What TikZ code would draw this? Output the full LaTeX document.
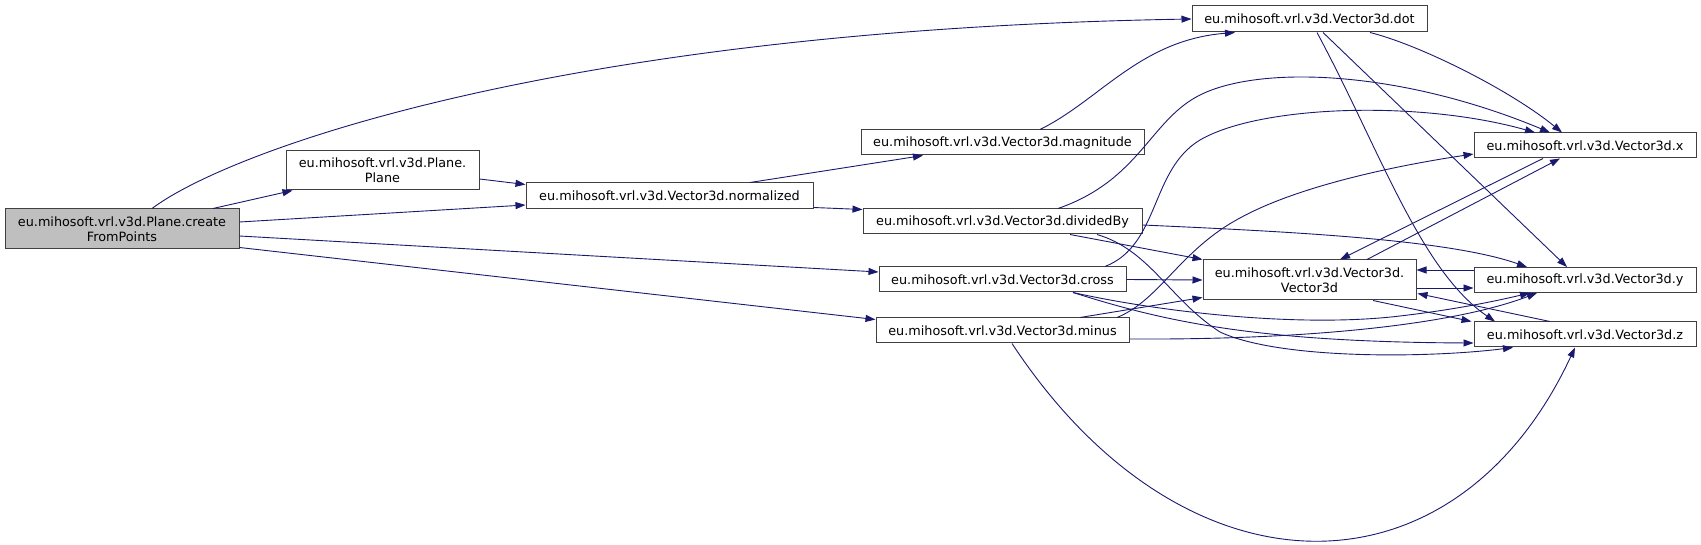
\documentclass[tikz,border=0pt]{standalone}
\usepackage{fontspec}
\setmainfont{DejaVu Sans}
\usetikzlibrary{arrows.meta, calc}
\definecolor{edgeblue}{RGB}{25,25,112}
\definecolor{boxgrey}{RGB}{191,191,191}
\tikzset{
  fnbox/.style={draw=black!75, line width=1pt, fill=white, inner sep=0pt,
    align=center, font=\fontsize{12.8}{15.4}\selectfont},
  hilite/.style={fnbox, fill=boxgrey},
  call/.style={draw=edgeblue, line width=0.9pt,
    -{Triangle[length=10pt, width=7pt]}}
}

\begin{document}
\begin{tikzpicture}[x=1pt, y=-1pt]
  \useasboundingbox (0,0) rectangle (1701,545);

  % ── Functions ────────────────────────────────────────────────────
  \node[hilite, minimum width=234, minimum height=40] (cfp) at (122,229)
    {eu.mihosoft.vrl.v3d.Plane.create\\FromPoints};
  \node[fnbox, minimum width=193, minimum height=39] (plane) at (382.5,170.5)
    {eu.mihosoft.vrl.v3d.Plane.\\Plane};
  \node[fnbox, minimum width=287, minimum height=26] (norm) at (669.5,196)
    {eu.mihosoft.vrl.v3d.Vector3d.normalized};
  \node[fnbox, minimum width=235, minimum height=26] (dot) at (1309.5,19)
    {eu.mihosoft.vrl.v3d.Vector3d.dot};
  \node[fnbox, minimum width=213, minimum height=40] (ctor) at (1309.5,280)
    {eu.mihosoft.vrl.v3d.Vector3d.\\Vector3d};

  \foreach \n/\lbl/\w/\yy in {mag/magnitude/283/142.5, divby/dividedBy/279/221.5,
                             cross/cross/247/279.5, minus/minus/253/330.5}
    { \node[fnbox, minimum width=\w, minimum height=25] (\n) at (1002.5,\yy)
        {eu.mihosoft.vrl.v3d.Vector3d.\lbl}; }

  \foreach \n/\lbl/\yy in {vx/x/145.5, vy/y/280, vz/z/334.5}
    { \node[fnbox, minimum width=222, minimum height=25] (\n) at (1585,\yy)
        {eu.mihosoft.vrl.v3d.Vector3d.\lbl}; }

  % ── Calls from createFromPoints ──────────────────────────────────
  \draw[call] ($(cfp.north)+(30,0)$) .. controls (230,150) and (560,30) .. (dot.west);
  \draw[call] ($(cfp.north)+(91,0)$) -- ($(plane.south west)+(7,0)$);
  \draw[call] ($(cfp.east)+(0,-7)$) -- ($(norm.west)+(0,9)$);
  \draw[call] ($(cfp.east)+(0,7)$) -- ($(cross.west)+(0,-7.5)$);
  \draw[call] ($(cfp.south east)+(0,-2)$) -- ($(minus.north west)+(0,2)$);

  % ── Plane, normalized, magnitude ─────────────────────────────────
  \draw[call] ($(plane.east)+(0,8.5)$) -- ($(norm.north west)+(0,2)$);
  \draw[call] ($(norm.north)+(80.5,0)$) -- ($(mag.south)+(-79.5,0)$);
  \draw[call] ($(norm.south east)+(0,-2)$) -- ($(divby.north west)+(0,1)$);
  \draw[call] ($(mag.north)+(37.5,0)$) .. controls (1100,100) and (1140,40)
    .. ($(dot.south)+(-74.5,0)$);

  % ── dot ──────────────────────────────────────────────────────────
  \draw[call] ($(dot.south)+(60.5,0)$) .. controls (1420,45) and (1510,90)
    .. ($(vx.north)+(-23,0)$);
  \draw[call] ($(dot.south)+(13.5,0)$) -- ($(vy.north)+(-18,0)$);
  \draw[call] ($(dot.south)+(7.5,0)$) .. controls (1380,150) and (1420,270)
    .. ($(vz.north)+(-90,0)$);

  % ── dividedBy ────────────────────────────────────────────────────
  \draw[call] ($(divby.north)+(55.5,0)$) .. controls (1140,180) and (1150,120) .. (1200,95)
    .. controls (1260,65) and (1400,70) .. ($(vx.north)+(-35,0)$);
  \draw[call] ($(divby.east)+(0,3.5)$) .. controls (1300,232) and (1450,240)
    .. ($(vy.north)+(-58,0)$);
  \draw[call] ($(divby.south)+(67.5,0)$) -- (ctor.north west);
  \draw[call] ($(divby.south)+(94.5,0)$) .. controls (1150,250) and (1170,300) .. (1220,332)
    .. controls (1280,360) and (1430,358) .. ($(vz.south)+(-72,0)$);

  % ── cross ────────────────────────────────────────────────────────
  \draw[call] ($(cross.north)+(102.5,0)$) .. controls (1160,245) and (1150,170) .. (1200,140)
    .. controls (1260,105) and (1420,100) .. ($(vx.north)+(-50,0)$);
  \draw[call] (cross.east) -- (ctor.west);
  \draw[call] ($(cross.south)+(70.5,0)$) .. controls (1160,312) and (1300,328) .. (1400,316)
    .. controls (1460,309) and (1500,300) .. ($(vy.south)+(-55,0)$);
  \draw[call] ($(cross.south)+(70.5,0)$) .. controls (1160,320) and (1250,342)
    .. ($(vz.west)+(0,8.5)$);

  % ── minus ────────────────────────────────────────────────────────
  \draw[call] ($(minus.north)+(77.5,0)$) -- ($(ctor.south west)+(0,-3)$);
  \draw[call] ($(minus.north)+(114.5,0)$) .. controls (1160,300) and (1180,250) .. (1240,218)
    .. controls (1300,185) and (1400,165) .. ($(vx.west)+(0,8.5)$);
  \draw[call] ($(minus.east)+(0,8.5)$) .. controls (1300,340) and (1450,326)
    .. ($(vy.south)+(-48,0)$);
  \draw[call] ($(minus.south)+(9.5,0)$) .. controls (1184,605) and (1455,605)
    .. ($(vz.south)+(-10,0)$);

  % ── Vector3d constructor and accessors ───────────────────────────
  \draw[call] ($(ctor.north)+(57.5,0)$) -- ($(vx.south)+(-25,0)$);
  \draw[call] ($(vx.south)+(-42,0)$) -- ($(ctor.north)+(30.5,0)$);
  \draw[call] ($(ctor.east)+(0,8)$) -- ($(vy.west)+(0,8)$);
  \draw[call] ($(vy.west)+(0,-10)$) -- ($(ctor.east)+(0,-10)$);
  \draw[call] ($(ctor.south)+(63.5,0)$) -- ($(vz.north west)+(-2,0)$);
  \draw[call] ($(vz.north)+(-35,0)$) -- ($(ctor.south east)+(1,-7)$);
\end{tikzpicture}
\end{document}
